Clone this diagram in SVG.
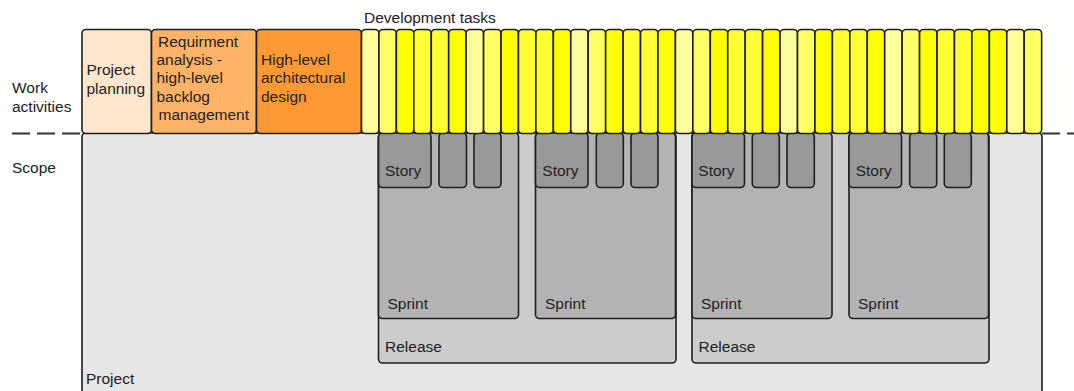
<svg xmlns="http://www.w3.org/2000/svg" width="1074" height="391" viewBox="0 0 1074 391">
  <style>
    text { font-family: "Liberation Sans", Arial, sans-serif; font-size: 15.5px; fill: #222222; }
    .box { stroke: #1f1f1f; stroke-width: 1.6; }
    .task { stroke: #1f1f1f; stroke-width: 1.6; }
    .p1 { fill: #ffff99; }
    .p2 { fill: #ffff66; }
    .p3 { fill: #ffff33; }
    .p4 { fill: #ffff00; }
    .project { fill: #e6e6e6; }
    .release { fill: #cccccc; }
    .sprint { fill: #b3b3b3; }
    .story { fill: #999999; }
    .divider { stroke: #333333; stroke-width: 2; stroke-dasharray: 18 7; fill: none; }
  </style>

  <rect width="1074" height="391" fill="#ffffff"/>

  <!-- row divider between work activities and scope -->
  <g id="connectors">
    <line class="divider" x1="12" y1="133.5" x2="82" y2="133.5"/>
    <line class="divider" x1="1042" y1="133.5" x2="1074" y2="133.5"/>
  </g>

  <!-- row labels -->
  <g id="labels">
    <text x="12" y="93">Work</text>
    <text x="12" y="111.5">activities</text>
    <text x="12" y="172.5">Scope</text>
    <text x="364" y="23">Development tasks</text>
  </g>

  <!-- scope: project / releases / sprints / stories -->
  <g id="project">
    <rect class="box project" x="82" y="133" width="960" height="270" rx="4"/>
    <text x="86" y="384">Project</text>
  </g>

  <g id="release-1">
    <rect class="box release" x="378.5" y="133" width="297.5" height="230" rx="4"/>
    <text x="385" y="351.5">Release</text>
  </g>
  <g id="release-2">
    <rect class="box release" x="692" y="133" width="297" height="230" rx="4"/>
    <text x="698.5" y="351.5">Release</text>
  </g>

  <g id="sprint-1">
    <rect class="box sprint" x="378.5" y="133" width="140" height="185.5" rx="4"/>
    <text x="387.5" y="308.5">Sprint</text>
  </g>
  <g id="sprint-2">
    <rect class="box sprint" x="535.5" y="133" width="140" height="185.5" rx="4"/>
    <text x="545" y="308.5">Sprint</text>
  </g>
  <g id="sprint-3">
    <rect class="box sprint" x="692" y="133" width="140" height="185.5" rx="4"/>
    <text x="701" y="308.5">Sprint</text>
  </g>
  <g id="sprint-4">
    <rect class="box sprint" x="849" y="133" width="139.5" height="185.5" rx="4"/>
    <text x="858" y="308.5">Sprint</text>
  </g>

  <g id="stories-1">
    <rect class="box story" x="378.5" y="133" width="52.5" height="54.5" rx="4"/>
    <text x="385" y="176">Story</text>
    <rect class="box story" x="439" y="133" width="27.5" height="54.5" rx="4"/>
    <rect class="box story" x="474" y="133" width="27" height="54.5" rx="4"/>
  </g>
  <g id="stories-2">
    <rect class="box story" x="535.5" y="133" width="52.5" height="54.5" rx="4"/>
    <text x="542.3" y="176">Story</text>
    <rect class="box story" x="596.3" y="133" width="27" height="54.5" rx="4"/>
    <rect class="box story" x="631" y="133" width="27" height="54.5" rx="4"/>
  </g>
  <g id="stories-3">
    <rect class="box story" x="692" y="133" width="52.5" height="54.5" rx="4"/>
    <text x="698.3" y="176">Story</text>
    <rect class="box story" x="752.3" y="133" width="27" height="54.5" rx="4"/>
    <rect class="box story" x="787" y="133" width="27.3" height="54.5" rx="4"/>
  </g>
  <g id="stories-4">
    <rect class="box story" x="849" y="133" width="52.5" height="54.5" rx="4"/>
    <text x="855.7" y="176">Story</text>
    <rect class="box story" x="909.7" y="133" width="27" height="54.5" rx="4"/>
    <rect class="box story" x="944.3" y="133" width="27" height="54.5" rx="4"/>
  </g>

  <!-- work activities -->
  <g id="project-planning">
    <rect class="box" x="82" y="29.5" width="69.5" height="104" rx="4" fill="#ffe6cc"/>
    <text x="86.5" y="75">Project</text>
    <text x="86.5" y="93.5">planning</text>
  </g>
  <g id="requirement-analysis">
    <rect class="box" x="151.5" y="29.5" width="105" height="104" rx="4" fill="#ffb366"/>
    <text x="158" y="46.5">Requirment</text>
    <text x="156.5" y="64.5">analysis -</text>
    <text x="156.5" y="83">high-level</text>
    <text x="156.5" y="101.5">backlog</text>
    <text x="158.5" y="120">management</text>
  </g>
  <g id="architectural-design">
    <rect class="box" x="256.5" y="29.5" width="105" height="104" rx="4" fill="#ff9933"/>
    <text x="261" y="64.5">High-level</text>
    <text x="261" y="83">architectural</text>
    <text x="261" y="101.5">design</text>
  </g>

  <!-- development tasks: 39 task bars, 17.44 wide -->
  <g id="development-tasks">
    <rect class="task p1" x="361.50" y="29.5" width="17.44" height="104" rx="4"/>
    <rect class="task p2" x="378.94" y="29.5" width="17.44" height="104" rx="4"/>
    <rect class="task p4" x="396.38" y="29.5" width="17.44" height="104" rx="4"/>
    <rect class="task p3" x="413.82" y="29.5" width="17.44" height="104" rx="4"/>
    <rect class="task p3" x="431.26" y="29.5" width="17.44" height="104" rx="4"/>
    <rect class="task p4" x="448.70" y="29.5" width="17.44" height="104" rx="4"/>
    <rect class="task p1" x="466.14" y="29.5" width="17.44" height="104" rx="4"/>
    <rect class="task p2" x="483.58" y="29.5" width="17.44" height="104" rx="4"/>
    <rect class="task p4" x="501.02" y="29.5" width="17.44" height="104" rx="4"/>
    <rect class="task p3" x="518.46" y="29.5" width="17.44" height="104" rx="4"/>
    <rect class="task p3" x="535.90" y="29.5" width="17.44" height="104" rx="4"/>
    <rect class="task p4" x="553.34" y="29.5" width="17.44" height="104" rx="4"/>
    <rect class="task p1" x="570.78" y="29.5" width="17.44" height="104" rx="4"/>
    <rect class="task p2" x="588.22" y="29.5" width="17.44" height="104" rx="4"/>
    <rect class="task p4" x="605.66" y="29.5" width="17.44" height="104" rx="4"/>
    <rect class="task p3" x="623.10" y="29.5" width="17.44" height="104" rx="4"/>
    <rect class="task p3" x="640.54" y="29.5" width="17.44" height="104" rx="4"/>
    <rect class="task p4" x="657.98" y="29.5" width="17.44" height="104" rx="4"/>
    <rect class="task p1" x="675.42" y="29.5" width="17.44" height="104" rx="4"/>
    <rect class="task p2" x="692.86" y="29.5" width="17.44" height="104" rx="4"/>
    <rect class="task p4" x="710.30" y="29.5" width="17.44" height="104" rx="4"/>
    <rect class="task p3" x="727.74" y="29.5" width="17.44" height="104" rx="4"/>
    <rect class="task p3" x="745.18" y="29.5" width="17.44" height="104" rx="4"/>
    <rect class="task p4" x="762.62" y="29.5" width="17.44" height="104" rx="4"/>
    <rect class="task p1" x="780.06" y="29.5" width="17.44" height="104" rx="4"/>
    <rect class="task p2" x="797.50" y="29.5" width="17.44" height="104" rx="4"/>
    <rect class="task p4" x="814.94" y="29.5" width="17.44" height="104" rx="4"/>
    <rect class="task p3" x="832.38" y="29.5" width="17.44" height="104" rx="4"/>
    <rect class="task p3" x="849.82" y="29.5" width="17.44" height="104" rx="4"/>
    <rect class="task p4" x="867.26" y="29.5" width="17.44" height="104" rx="4"/>
    <rect class="task p1" x="884.70" y="29.5" width="17.44" height="104" rx="4"/>
    <rect class="task p2" x="902.14" y="29.5" width="17.44" height="104" rx="4"/>
    <rect class="task p4" x="919.58" y="29.5" width="17.44" height="104" rx="4"/>
    <rect class="task p3" x="937.02" y="29.5" width="17.44" height="104" rx="4"/>
    <rect class="task p3" x="954.46" y="29.5" width="17.44" height="104" rx="4"/>
    <rect class="task p4" x="971.90" y="29.5" width="17.44" height="104" rx="4"/>
    <rect class="task p4" x="989.34" y="29.5" width="17.44" height="104" rx="4"/>
    <rect class="task p1" x="1006.78" y="29.5" width="17.44" height="104" rx="4"/>
    <rect class="task p2" x="1024.22" y="29.5" width="17.44" height="104" rx="4"/>
  </g>
</svg>
